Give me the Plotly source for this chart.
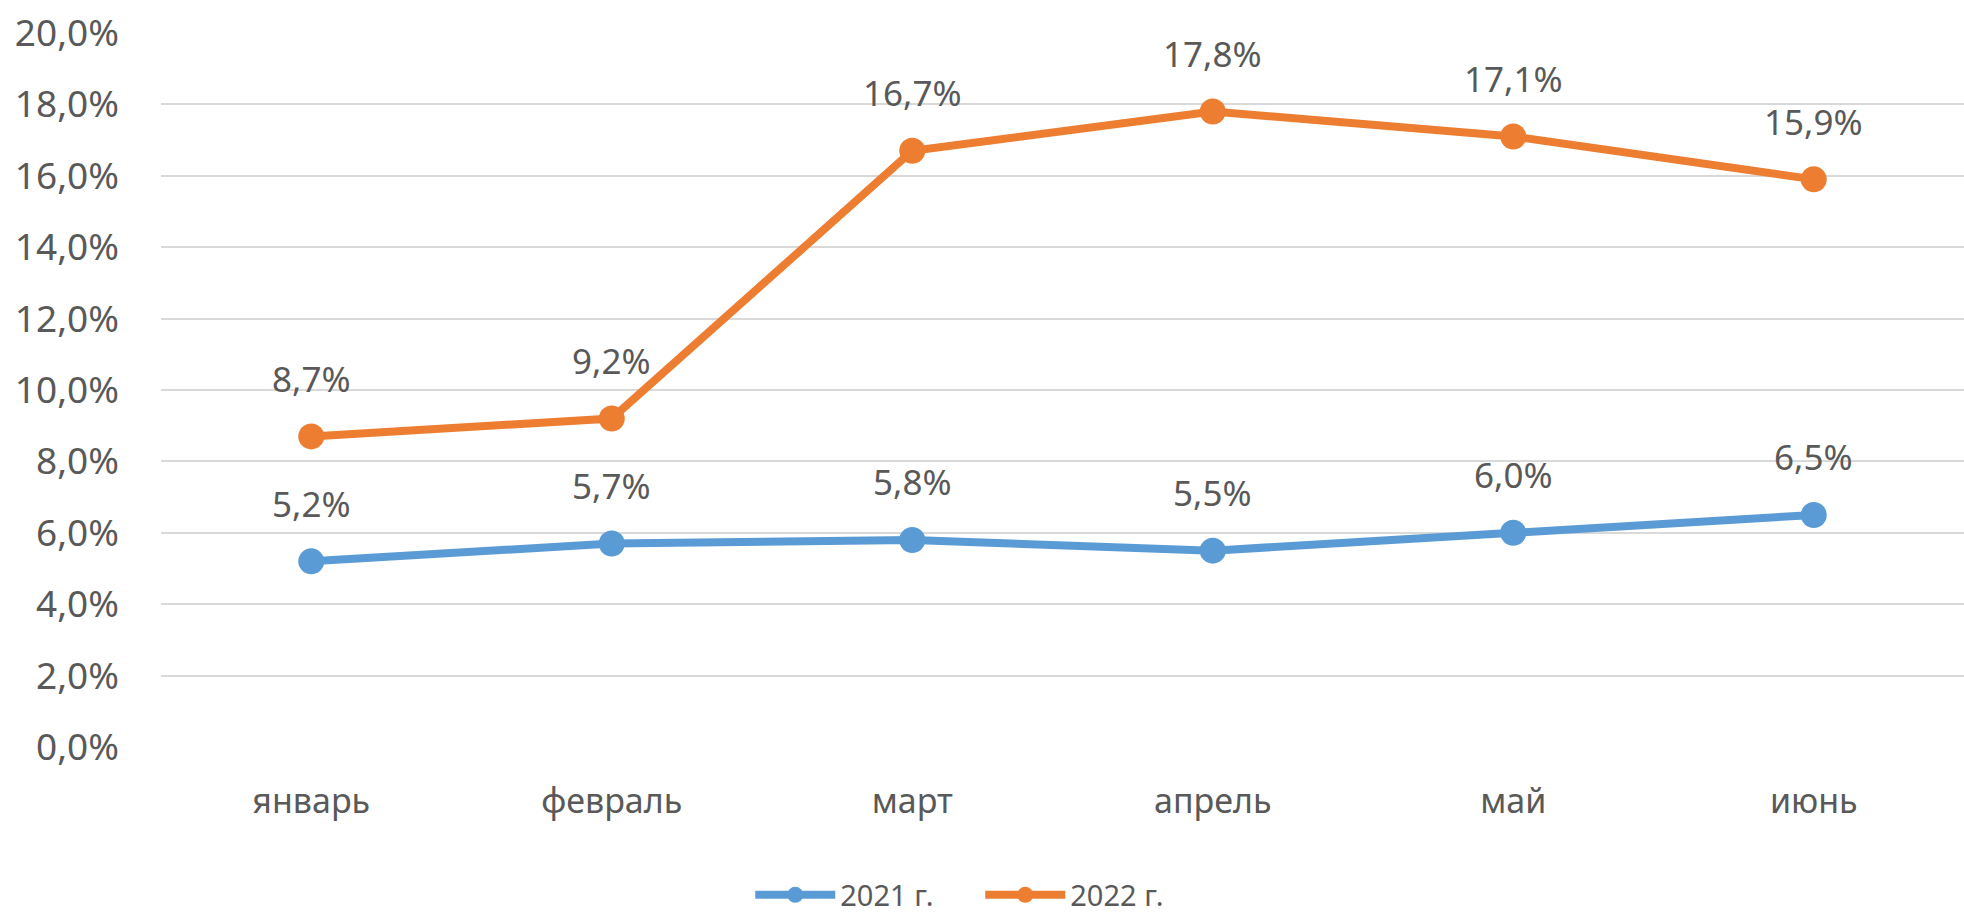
import plotly.graph_objects as go

months = ["январь", "февраль", "март", "апрель", "май", "июнь"]
series_names = ["2021 г.", "2022 г."]
values_2021 = [5.2, 5.7, 5.8, 5.5, 6.0, 6.5]
values_2022 = [8.7, 9.2, 16.7, 17.8, 17.1, 15.9]
y_ticks = [0, 2, 4, 6, 8, 10, 12, 14, 16, 18, 20]

colors = ["#5B9BD5", "#ED7D31"]
font_family = "Noto Sans, Open Sans, DejaVu Sans, sans-serif"
text_gray = "#595959"


def fmt(v):
    return f"{v:.1f}".replace(".", ",") + "%"


fig = go.Figure()
for name, vals, col in zip(series_names, [values_2021, values_2022], colors):
    fig.add_trace(go.Scatter(
        x=months, y=vals, name=name, mode="lines+markers",
        line=dict(color=col, width=8),
        marker=dict(color=col, size=26),
        cliponaxis=False,
    ))
    for m, v in zip(months, vals):
        fig.add_annotation(
            x=m, y=v, text=fmt(v), showarrow=False,
            yshift=58, yanchor="middle", xanchor="center",
            font=dict(family=font_family, size=35, color=text_gray),
        )

fig.update_layout(
    width=1964, height=913,
    margin=dict(l=161, r=0, t=33, b=166, autoexpand=False),
    paper_bgcolor="white", plot_bgcolor="white",
    showlegend=True,
    legend=dict(
        orientation="h", xref="container", yref="container",
        x=0.382, xanchor="left", y=0.0197, yanchor="middle",
        font=dict(family=font_family, size=29, color=text_gray),
        itemwidth=80, entrywidth=135, entrywidthmode="pixels",
    ),
    font=dict(family=font_family, color=text_gray),
)
fig.update_xaxes(
    type="category", range=[-0.5, 5.5], automargin=False,
    showgrid=False, showline=False, zeroline=False, ticks="",
    tickfont=dict(family=font_family, size=34, color=text_gray),
    ticklabelstandoff=31,
)
fig.update_yaxes(
    range=[0, 20], tickvals=y_ticks, automargin=False,
    ticktext=[fmt(v) for v in y_ticks],
    showgrid=True, gridcolor="#D9D9D9", gridwidth=2,
    zeroline=False, showline=False, ticks="",
    tickfont=dict(family=font_family, size=37, color=text_gray),
    ticklabelstandoff=41,
)

fig.write_html(
    "out.html",
    config={"displayModeBar": False},
    post_script="document.body.style.margin='0';document.body.style.overflow='hidden';",
)
